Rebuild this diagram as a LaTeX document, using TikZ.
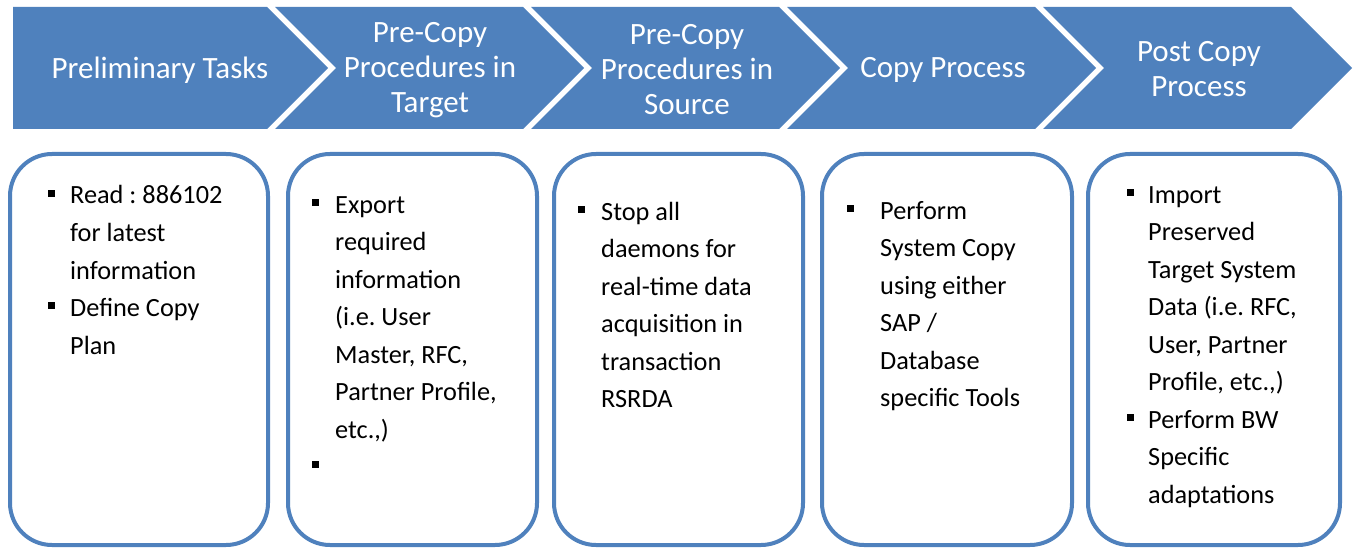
\documentclass[tikz,border=0pt]{standalone}
\usepackage{fontspec}
\setmainfont{Carlito}
\usepackage{array}
\frenchspacing
\definecolor{ofblue}{HTML}{4F81BD}
\newcommand{\bul}{\rule[7.3pt]{7pt}{7pt}}
\begin{document}
\begin{tikzpicture}[x=1pt,y=-1pt,
  chev/.style={fill=ofblue,draw=none},
  head/.style={text=white,align=center,inner sep=0pt,font=\fontsize{31}{35}\selectfont},
  card/.style={draw=ofblue,line width=4pt,rounded corners=42pt,fill=white,minimum width=#1,minimum height=391pt,inner sep=0pt},
  body/.style={anchor=base west,inner sep=0pt,font=\fontsize{26.3}{37.5}\selectfont}]
\useasboundingbox (0,0) rectangle (1356,548);
% chevrons
\path[chev] (13,7) -- (267,7) -- (328,68) -- (267,129) -- (13,129) -- cycle;
\path[chev] (275,7) -- (523,7) -- (584,68) -- (523,129) -- (275,129) -- (336,68) -- cycle;
\path[chev] (531,7) -- (779,7) -- (840,68) -- (779,129) -- (531,129) -- (592,68) -- cycle;
\path[chev] (787,7) -- (1035,7) -- (1096,68) -- (1035,129) -- (787,129) -- (848,68) -- cycle;
\path[chev] (1043,7) -- (1291,7) -- (1352,68) -- (1291,129) -- (1043,129) -- (1104,68) -- cycle;
% headings
\node[head] (h1) at (160,70) {Preliminary Tasks};
\node[head] (h2) at (430,70) {Pre-Copy\\Procedures in\\Target};
\node[head] (h3) at (687,70) {Pre-Copy\\Procedures in\\Source};
\node[head] (h4) at (943,70) {Copy Process};
\node[head] (h5) at (1199,69) {Post Copy\\Process};
% cards
\node[card=258pt] (c1) at (139,349.5) {};
\node[card=249pt] (c2) at (412.5,349.5) {};
\node[card=249pt] (c3) at (678.5,349.5) {};
\node[card=250pt] (c4) at (947,349.5) {};
\node[card=252pt] (c5) at (1214,349.5) {};
% texts
\node[body] (t1) at (48,204) {\begin{tabular}[t]{@{}p{22pt}@{}l@{}}
\bul & Read : 886102\\ & for latest\\ & information\\
\bul & Define Copy\\ & Plan\end{tabular}};
\node[body] (t2) at (312,213) {\begin{tabular}[t]{@{}p{23pt}@{}l@{}}
\bul & Export\\ & required\\ & information\\ & (i.e. User\\ & Master, RFC,\\ & Partner Profile,\\ & etc.,)\\
\bul & \end{tabular}};
\node[body] (t3) at (578,220) {\begin{tabular}[t]{@{}p{23pt}@{}l@{}}
\bul & Stop all\\ & daemons for\\ & real-time data\\ & acquisition in\\ & transaction\\ & RSRDA\end{tabular}};
\node[body] (t4) at (847,219) {\begin{tabular}[t]{@{}p{33pt}@{}l@{}}
\bul & Perform\\ & System Copy\\ & using either\\ & SAP /\\ & Database\\ & specific Tools\end{tabular}};
\node[body] (t5) at (1126.5,203) {\begin{tabular}[t]{@{}p{21.5pt}@{}l@{}}
\bul & Import\\ & Preserved\\ & Target System\\ & Data (i.e. RFC,\\ & User, Partner\\ & Profile, etc.,)\\
\bul & Perform BW\\ & Specific\\ & adaptations\end{tabular}};
\end{tikzpicture}
\end{document}
